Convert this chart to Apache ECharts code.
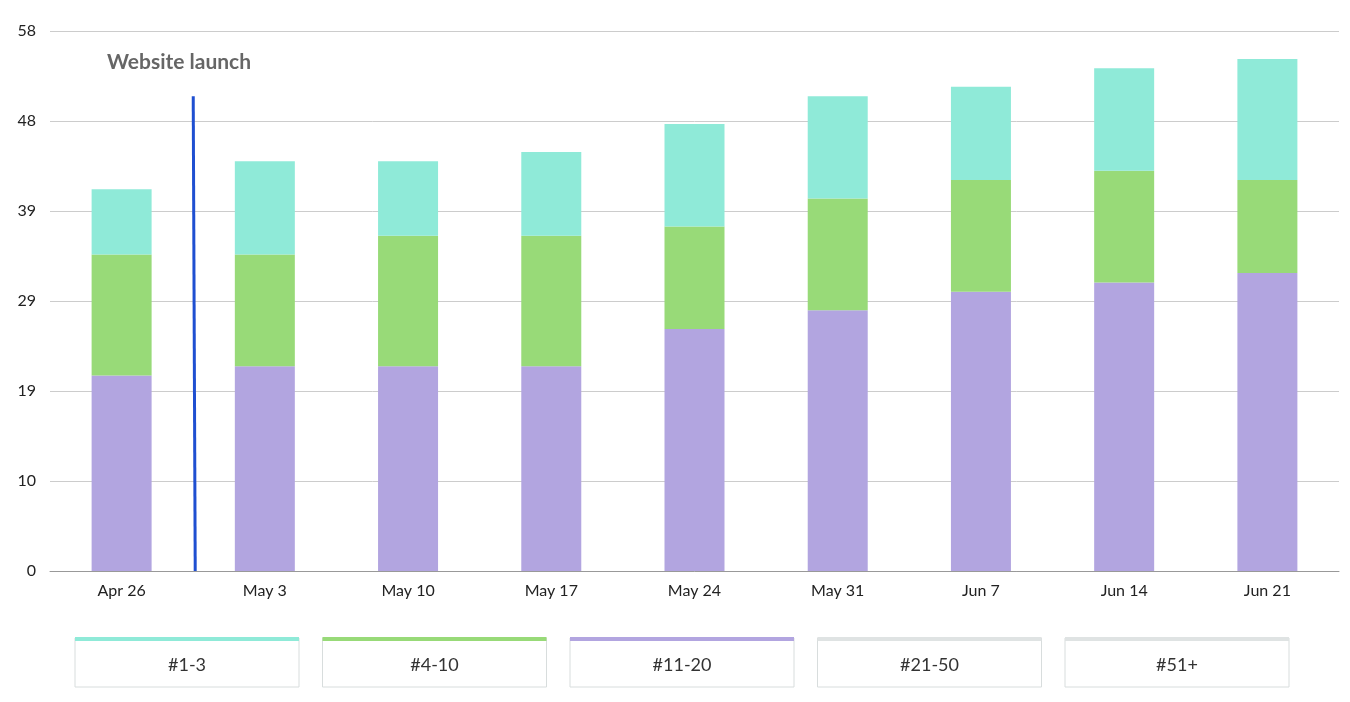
<!DOCTYPE html>
<html><head><meta charset="utf-8">
<script src="https://cdn.jsdelivr.net/npm/echarts@6/dist/echarts.min.js"></script>
<style>html,body{margin:0;padding:0;background:#fff}#c{width:1350px;height:702px}</style>
</head><body><div id="c"></div>
<script>
const categories = ['Apr 26','May 3','May 10','May 17','May 24','May 31','Jun 7','Jun 14','Jun 21'];
const rank11_20 = [21,22,22,22,26,28,30,31,32];
const rank4_10 = [13,12,14,14,11,12,12,12,10];
const rank1_3 = [7,10,8,9,11,11,10,11,13];
const rank21_50 = [0,0,0,0,0,0,0,0,0];
const rank51p = [0,0,0,0,0,0,0,0,0];
const legendNames = ['#1-3','#4-10','#11-20','#21-50','#51+'];
const legendColors = ['#8fead8','#98da78','#b2a5e0','#dfe3e3','#dfe3e3'];
const launchValue = 51;
const launchText = 'Website launch';

const chart = echarts.init(document.getElementById('c'));
const mk = (name, data, color) => ({name, type:'bar', stack:'s', data, barWidth:60, itemStyle:{color}, silent:true});
chart.setOption({
  animation:false,
  grid:{left:50,right:11,top:31,bottom:131},
  xAxis:{type:'category',data:categories,axisTick:{show:false},
    axisLine:{lineStyle:{color:'#999'}},
    axisLabel:{color:'#222',fontSize:16,fontFamily:'Lato',margin:12}},
  yAxis:{type:'value',min:0,max:58,interval:58/6,
    splitLine:{lineStyle:{color:'#ccc'}},
    axisLabel:{color:'#222',fontSize:16,fontFamily:'Lato',margin:14,formatter:v=>Math.round(v)}},
  series:[mk('#11-20',rank11_20,legendColors[2]),mk('#4-10',rank4_10,legendColors[1]),mk('#1-3',rank1_3,legendColors[0]),
    mk('#21-50',rank21_50,legendColors[3]),mk('#51+',rank51p,legendColors[4])]
});
const p0 = chart.convertToPixel({xAxisIndex:0,yAxisIndex:0},[0,0]);
const p1 = chart.convertToPixel({xAxisIndex:0,yAxisIndex:0},[1,launchValue]);
const lx = (p0[0]+p1[0])/2;
const g = [
  {type:'line',shape:{x1:lx,y1:p1[1],x2:lx+2,y2:p0[1]},style:{stroke:'#1f4fd1',lineWidth:3},z:10},
  {type:'text',left:107,top:52,style:{text:launchText,fill:'#666',font:'bold 21px Lato'}}
];
const lx0=75, lw=224, gap=247.5;
legendNames.forEach((n,i)=>{
  const x=lx0+i*gap;
  g.push({type:'rect',shape:{x:x,y:638,width:lw,height:49},style:{fill:'#fff',stroke:'#d8dddd',lineWidth:1}});
  g.push({type:'rect',shape:{x:x,y:637,width:lw,height:4},style:{fill:legendColors[i]}});
  g.push({type:'text',x:x+lw/2,y:665,style:{text:n,fill:'#333',font:'18px Lato',align:'center',verticalAlign:'middle'}});
});
chart.setOption({graphic:g});
</script></body></html>
